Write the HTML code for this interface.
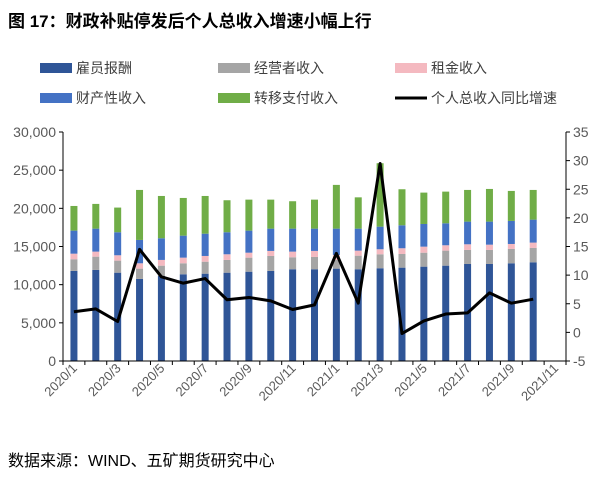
<!DOCTYPE html>
<html><head><meta charset="utf-8"><style>
body{margin:0;background:#fff;width:608px;height:479px;overflow:hidden;font-family:"Liberation Sans","Noto Sans CJK SC",sans-serif}
</style></head><body>
<svg width="608" height="479" style="position:absolute;left:0;top:0" font-family="Liberation Sans, Noto Sans CJK SC, sans-serif">
<text x="8" y="27" font-size="17" font-weight="bold" fill="#000">图 17：财政补贴停发后个人总收入增速小幅上行</text>
<g id="legend" font-size="14" fill="#404040"></g>
<g id="plot"></g>
<text x="8" y="466" font-size="16" fill="#000">数据来源：WIND、五矿期货研究中心</text>
</svg>
<script>
const categories=["2020/1","2020/2","2020/3","2020/4","2020/5","2020/6","2020/7","2020/8","2020/9","2020/10","2020/11","2020/12","2021/1","2021/2","2021/3","2021/4","2021/5","2021/6","2021/7","2021/8","2021/9","2021/10","2021/11"];
const wages=[11800,11930,11570,10750,11140,11360,11440,11570,11700,11800,12020,12020,12100,12020,12150,12230,12360,12490,12710,12710,12800,12930];
const operating=[1530,1740,1580,1350,1350,1440,1570,1670,1840,1960,1570,1610,1140,1780,1830,1790,1830,1970,1840,1840,1880,1880];
const rent=[730,660,700,700,750,740,750,740,650,660,740,790,650,660,660,750,790,700,740,690,650,700];
const property=[3020,3010,3020,3060,2840,2880,2920,2890,2890,2920,3010,2920,3450,2880,2960,3010,2970,2880,2970,3020,3020,3010];
const transfer=[3230,3240,3230,6550,5540,4940,4940,4190,4060,3800,3590,3800,5730,4100,8310,4720,4110,4150,4150,4280,3930,3890];
const growth=[3.6,4.1,1.9,14.5,9.7,8.6,9.4,5.7,6.1,5.5,4.0,4.8,13.8,5.1,29.5,-0.2,2.0,3.2,3.4,6.9,5.1,5.8];
const leftTicks=[0,5000,10000,15000,20000,25000,30000];
const rightTicks=[-5,0,5,10,15,20,25,30,35];
const NS="http://www.w3.org/2000/svg";
const plot=document.getElementById('plot'), legend=document.getElementById('legend');
const X0=63,X1=566,Y0=361,Y1=132;
const bw=(X1-X0)/categories.length;
const yL=v=>Y0-(v/30000)*(Y0-Y1);
const yR=v=>Y0-((v+5)/40)*(Y0-Y1);
const xC=i=>X0+bw*(i+0.5);
function mk(tag,attrs,parent){const e=document.createElementNS(NS,tag);for(const k in attrs)e.setAttribute(k,attrs[k]);parent.appendChild(e);return e;}
const series=[[wages,"#2F5597","wages"],[operating,"#A5A5A5","operating"],[rent,"#F4B9C0","rent"],[property,"#4472C4","property"],[transfer,"#70AD47","transfer"]];
wages.forEach((_,i)=>{let base=0;series.forEach(([arr,col,nm])=>{const r=mk('rect',{x:xC(i)-3.5,y:yL(base+arr[i]),width:7,height:yL(base)-yL(base+arr[i]),fill:col},plot);


base+=arr[i];});});
// axes
let a=mk('line',{x1:X0,y1:Y1,x2:X0,y2:Y0,stroke:'#000'},plot);


a=mk('line',{x1:X1,y1:Y1,x2:X1,y2:Y0,stroke:'#000'},plot);


a=mk('line',{x1:X0,y1:Y0,x2:X1,y2:Y0,stroke:'#000'},plot);


leftTicks.forEach(v=>{mk('line',{x1:X0-4,x2:X0,y1:yL(v),y2:yL(v),stroke:'#000'},plot);
const t=mk('text',{x:X0-7,y:yL(v)+5,'text-anchor':'end','font-size':14,fill:'#595959'},plot);t.textContent=v.toLocaleString('en-US');

});
rightTicks.forEach(v=>{mk('line',{x1:X1,x2:X1+4,y1:yR(v),y2:yR(v),stroke:'#000'},plot);
const t=mk('text',{x:X1+7,y:yR(v)+5,'font-size':14,fill:'#595959'},plot);t.textContent=v;

});
for(let i=0;i<=categories.length;i++)mk('line',{x1:X0+bw*i,x2:X0+bw*i,y1:Y0,y2:Y0+4,stroke:'#000'},plot);
categories.forEach((c,i)=>{if(i%2)return;const x=xC(i)+4,y=Y0+8;
const t=mk('text',{x:x,y:y,'text-anchor':'end','font-size':13,fill:'#595959',transform:`rotate(-45 ${x} ${y})`},plot);t.textContent=c;

});
const pl=mk('polyline',{points:growth.map((v,i)=>xC(i)+','+yR(v)).join(' '),fill:'none',stroke:'#000','stroke-width':3,'stroke-linejoin':'round'},plot);


const leg=[["雇员报酬","#2F5597",40,68],["经营者收入","#A5A5A5",218,68],["租金收入","#F4B9C0",395,68],["财产性收入","#4472C4",40,98],["转移支付收入","#70AD47",218,98],["个人总收入同比增速",null,395,98]];
leg.forEach(([n,c,x,y])=>{const g=mk('g',{},legend);


if(c)mk('rect',{x:x,y:y-5,width:32,height:10,fill:c},g);else mk('line',{x1:x,x2:x+32,y1:y,y2:y,stroke:'#000','stroke-width':3},g);
const t=mk('text',{x:x+36,y:y+5},g);t.textContent=n;});
</script>
</body></html>
